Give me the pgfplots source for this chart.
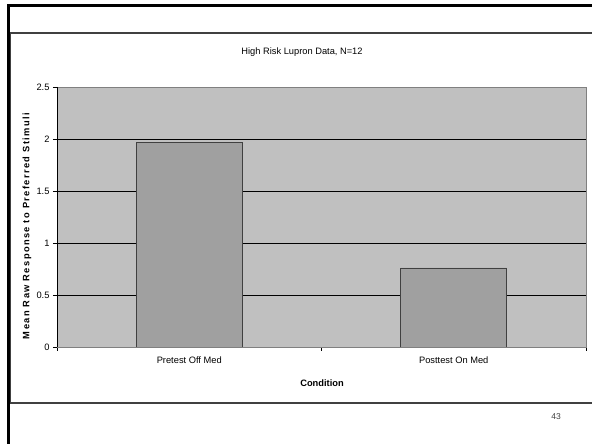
\documentclass[border=0pt]{standalone}
\usepackage{pgfplots}
\pgfplotsset{compat=1.18}
\usepackage{fontspec}
\setmainfont{Liberation Sans}
\newfontfamily\spacedbold[LetterSpace=15]{Liberation Sans}
\definecolor{plotbg}{HTML}{C0C0C0}
\definecolor{barfill}{HTML}{A0A0A0}
\definecolor{framegray}{HTML}{808080}
\definecolor{darkframe}{HTML}{404040}
\begin{document}
\begin{tikzpicture}[x=1pt,y=1pt]
\clip (0,0) rectangle (592,444);
\fill[white] (0,0) rectangle (592,444);
% slide and chart frames
\draw[darkframe, line width=1.5pt] (10.5,41) rectangle (600,411);
\draw[black, line width=3pt] (8.5,0) -- (8.5,438) -- (600,438);
\begin{axis}[
  at={(57pt,97pt)}, anchor=south west,
  scale only axis, width=529pt, height=260pt,
  xmin=-0.5, xmax=1.5, ymin=0, ymax=2.5,
  ytick={0,0.5,1,1.5,2,2.5},
  xtick={0,1},
  xticklabels={Pretest Off Med, Posttest On Med},
  minor xtick={-0.5,0.5,1.5},
  major x tick style={draw=none},
  minor x tick style={black},
  major y tick style={black},
  tick align=outside,
  major tick length=4pt, minor tick length=4pt,
  xtick pos=bottom, ytick pos=left,
  ymajorgrids,
  grid style={black, line width=0.6pt},
  axis background/.style={fill=plotbg},
  axis line style={framegray, line width=0.8pt},
  ticklabel style={font=\fontsize{9.3}{11}\selectfont},
  /pgf/number format/assume math mode=true,
  xticklabel style={yshift=-2pt},
  ybar, bar width=0.4,
]
\addplot[fill=barfill, draw=darkframe, line width=0.9pt] coordinates {(0,1.97) (1,0.76)};
\draw[black, line width=0.8pt] (rel axis cs:0,1) -- (rel axis cs:0,0) -- (rel axis cs:1,0);
\end{axis}
\node[font=\fontsize{9.3}{11}\selectfont] at (302,392) {High Risk Lupron Data, N=12};
\node[font=\fontsize{9.3}{11}\selectfont\bfseries] at (322,61) {Condition};
\node[rotate=90, font=\fontsize{9.3}{11}\spacedbold\bfseries] at (27,218) {Mean Raw Response to Preferred Stimuli};
\node[font=\fontsize{8.5}{10}\selectfont, text=darkframe] at (556,27) {43};
\end{tikzpicture}
\end{document}
